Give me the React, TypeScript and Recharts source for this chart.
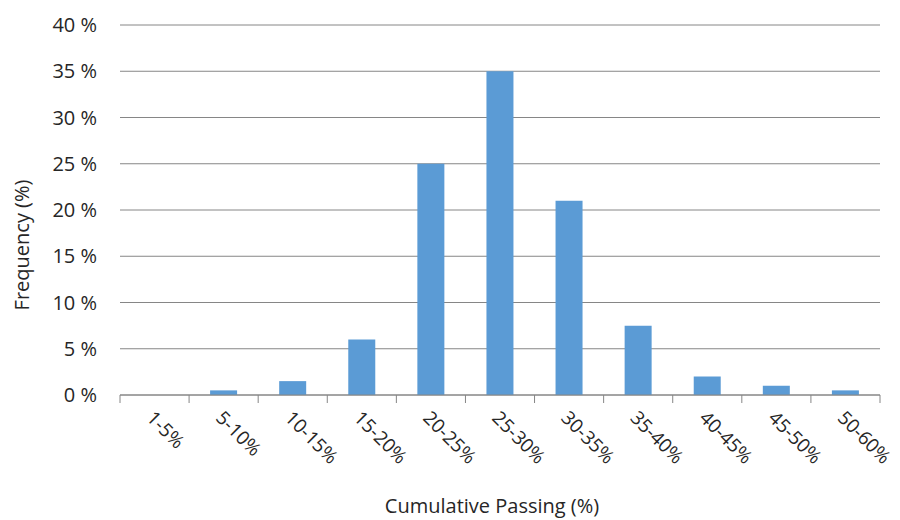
import { BarChart, Bar, XAxis, YAxis, CartesianGrid, Label } from "recharts";

const categories = ["1-5%", "5-10%", "10-15%", "15-20%", "20-25%", "25-30%", "30-35%", "35-40%", "40-45%", "45-50%", "50-60%"];
const frequency = [0, 0.5, 1.5, 6, 25, 35, 21, 7.5, 2, 1, 0.5];
const yTicks = [0, 5, 10, 15, 20, 25, 30, 35, 40];

const data = categories.map((name, i) => ({ name, frequency: frequency[i] }));

const FONT = "'Open Sans', sans-serif";
const TEXT = "#262626";
const AXIS = "#868686";

// category ticks: boundary tick marks + rotated label
const BinTick = ({ x, y, payload, index }: any) => {
  const half = payload.offset ?? 0;
  const last = index === categories.length - 1;
  const tx = x - 9;
  const ty = y + 24;
  return (
    <g>
      <line x1={x - half} y1={y} x2={x - half} y2={y + 8} stroke={AXIS} />
      {last && <line x1={x + half} y1={y} x2={x + half} y2={y + 8} stroke={AXIS} />}
      <text x={tx} y={ty} transform={`rotate(45, ${tx}, ${ty})`} textAnchor="start" fill={TEXT} fontSize={19} fontFamily={FONT}>
        {payload.value}
      </text>
    </g>
  );
};

const YTitle = ({ viewBox }: any) => {
  const cx = viewBox.x - 19;
  const cy = viewBox.y + viewBox.height / 2 + 35;
  return (
    <text x={cx} y={cy} transform={`rotate(-90, ${cx}, ${cy})`} textAnchor="middle" dominantBaseline="central" fill={TEXT} fontSize={20} fontFamily={FONT}>
      Frequency (%)
    </text>
  );
};

export default function App() {
  return (
    <div style={{ position: "absolute", left: 0, top: 0, width: 900, height: 520, background: "#fff", fontFamily: FONT }}>
      <BarChart width={900} height={520} data={data} margin={{ top: 25, right: 20, left: 40, bottom: 0 }}>
        <CartesianGrid vertical={false} stroke={AXIS} strokeWidth={1} />
        <XAxis
          dataKey="name"
          interval={0}
          height={125}
          tickLine={false}
          tickSize={0}
          tickMargin={0}
          stroke={AXIS}
          tick={<BinTick />}
        >
          <Label value="Cumulative Passing (%)" position="insideBottom" offset={7} dx={-8} fill={TEXT} fontSize={20} fontFamily={FONT} />
        </XAxis>
        <YAxis
          domain={[0, 40]}
          ticks={yTicks}
          width={80}
          axisLine={false}
          tickLine={false}
          tickSize={0}
          tickMargin={23}
          tickFormatter={(v: number) => `${v} %`}
          tick={{ fill: TEXT, fontSize: 20, fontFamily: FONT }}
        >
          <Label content={<YTitle />} position="insideLeft" />
        </YAxis>
        <Bar dataKey="frequency" fill="#5B9BD5" barSize={27} isAnimationActive={false} />
      </BarChart>
    </div>
  );
}
